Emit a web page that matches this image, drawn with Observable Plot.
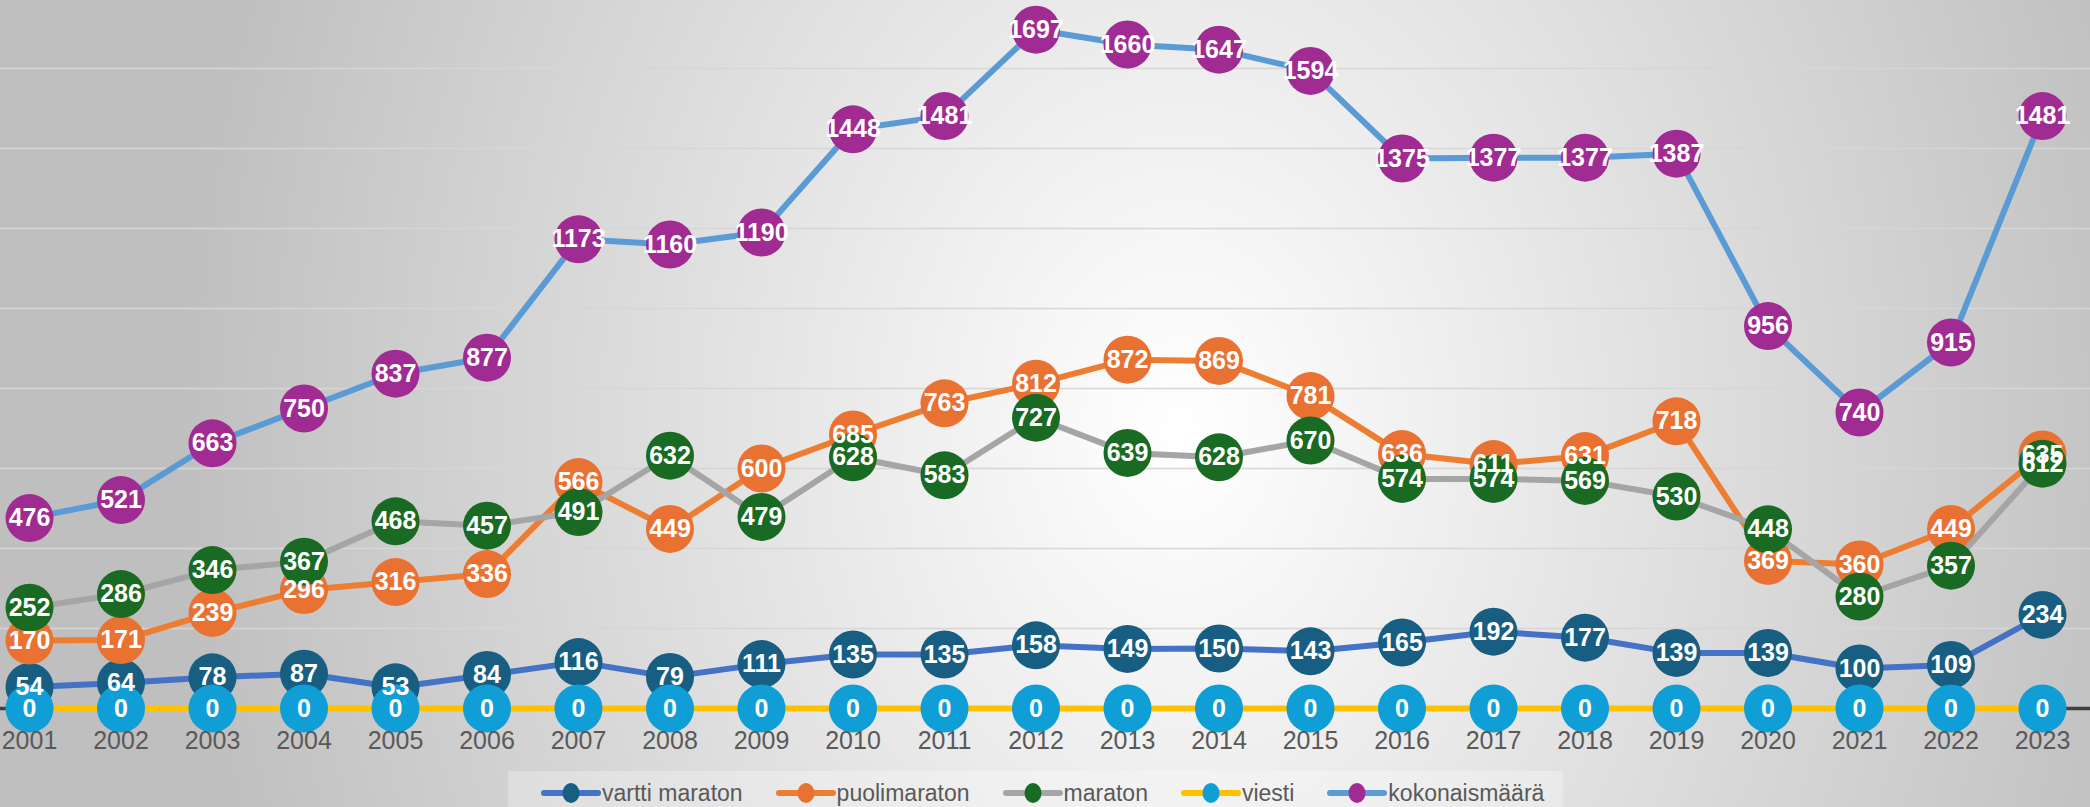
<!DOCTYPE html>
<html>
<head>
<meta charset="utf-8">
<script src="https://cdn.jsdelivr.net/npm/d3@7"></script>
<script src="https://cdn.jsdelivr.net/npm/@observablehq/plot@0.6"></script>
<style>
  html, body { margin: 0; padding: 0; overflow: hidden; }
  #wrap {
    position: relative; width: 2090px; height: 807px; overflow: hidden;
    background: radial-gradient(ellipse 1000px 1300px at 1180px 430px, #ffffff 0%, #f4f4f4 18%, #bfbfbf 100%);
    font-family: "Liberation Sans Narrow", "Liberation Sans", sans-serif;
  }
  #chart svg { display: block; background: transparent; }
  #legend {
    position: absolute; left: 508px; top: 771px; width: 1055px; height: 44px;
    background: rgba(255,255,255,0.28);
    display: flex; align-items: center; padding-left: 33px; box-sizing: border-box;
    white-space: nowrap;
  }
  .item { display: flex; align-items: center; margin-right: 33px; flex-shrink: 0; white-space: nowrap; }
  .item svg { flex-shrink: 0; }
  .item span { font-size: 23px; color: #595959; margin-left: 1px; white-space: nowrap; }
</style>
</head>
<body>
<div id="wrap">
  <div id="chart"></div>
  <div id="legend"></div>
</div>
<script>
const years = [2001, 2002, 2003, 2004, 2005, 2006, 2007, 2008, 2009, 2010, 2011, 2012,
               2013, 2014, 2015, 2016, 2017, 2018, 2019, 2020, 2021, 2022, 2023];
const vartti = [54, 64, 78, 87, 53, 84, 116, 79, 111, 135, 135, 158, 149, 150, 143, 165, 192, 177, 139, 139, 100, 109, 234];
const puolimaraton = [170, 171, 239, 296, 316, 336, 566, 449, 600, 685, 763, 812, 872, 869, 781, 636, 611, 631, 718, 369, 360, 449, 635];
const maraton = [252, 286, 346, 367, 468, 457, 491, 632, 479, 628, 583, 727, 639, 628, 670, 574, 574, 569, 530, 448, 280, 357, 612];
const viesti = [0, 0, 0, 0, 0, 0, 0, 0, 0, 0, 0, 0, 0, 0, 0, 0, 0, 0, 0, 0, 0, 0, 0];
const kokonaismaara = [476, 521, 663, 750, 837, 877, 1173, 1160, 1190, 1448, 1481, 1697, 1660, 1647, 1594, 1375, 1377, 1377, 1387, 956, 740, 915, 1481];

const seriesNames = ["vartti maraton", "puolimaraton", "maraton", "viesti", "kokonaismäärä"];
const seriesValues = [vartti, puolimaraton, maraton, viesti, kokonaismaara];
const lineColors = ["#4472C4", "#ED7D31", "#A5A5A5", "#FFC000", "#5B9BD5"];
const markerColors = ["#175E82", "#E97132", "#196B24", "#0F9ED5", "#A02B93"];
const gridValues = [200, 400, 600, 800, 1000, 1200, 1400, 1600];
const yDomain = [0, 1800];

const FONT = "'Liberation Sans Narrow', 'Liberation Sans', sans-serif";

const series = seriesNames.map((name, i) =>
  years.map((year, j) => ({ year, value: seriesValues[i][j], series: name }))
);
const allRows = series.flat();

const marks = [
  Plot.ruleY(gridValues, { stroke: "#d6d6d6", strokeWidth: 1.6 }),
  Plot.ruleY([0], { stroke: "#404040", strokeWidth: 3.5 })
];
series.forEach((rows, i) => {
  marks.push(Plot.line(rows, { x: "year", y: "value", stroke: lineColors[i], strokeWidth: 6, strokeLinejoin: "round", strokeLinecap: "round" }));
  marks.push(Plot.dot(rows, { x: "year", y: "value", r: 24, fill: markerColors[i], stroke: "none" }));
});
marks.push(Plot.text(allRows, {
  x: "year", y: "value", text: d => String(d.value),
  fill: "white", fontWeight: "bold", fontSize: 25, fontFamily: FONT
}));
marks.push(Plot.axisX({
  ticks: years, tickFormat: d => String(d), tickSize: 0, tickPadding: 11,
  fontSize: 25, fontFamily: FONT, fill: "#595959", label: null
}));

const chart = Plot.plot({
  width: 2090,
  height: 771,
  marginLeft: 0, marginRight: 0, marginTop: 0, marginBottom: 51,
  style: { background: "transparent", fontFamily: FONT, fontSize: "25px", color: "#595959", overflow: "visible" },
  x: { type: "linear", domain: [years[0], years[years.length - 1]], range: [29, 2042], axis: null },
  y: { domain: yDomain, range: [708, -12], axis: null },
  marks
});
document.getElementById("chart").appendChild(chart);

// Legend
const legend = document.getElementById("legend");
seriesNames.forEach((name, i) => {
  const item = document.createElement("div");
  item.className = "item";
  item.innerHTML =
    `<svg width="60" height="22" viewBox="0 0 60 22">
       <line x1="3" y1="11" x2="57" y2="11" stroke="${lineColors[i]}" stroke-width="6" stroke-linecap="round"/>
       <ellipse cx="30" cy="11" rx="8.5" ry="10" fill="${markerColors[i]}"/>
     </svg><span>${name}</span>`;
  legend.appendChild(item);
});
</script>
</body>
</html>
